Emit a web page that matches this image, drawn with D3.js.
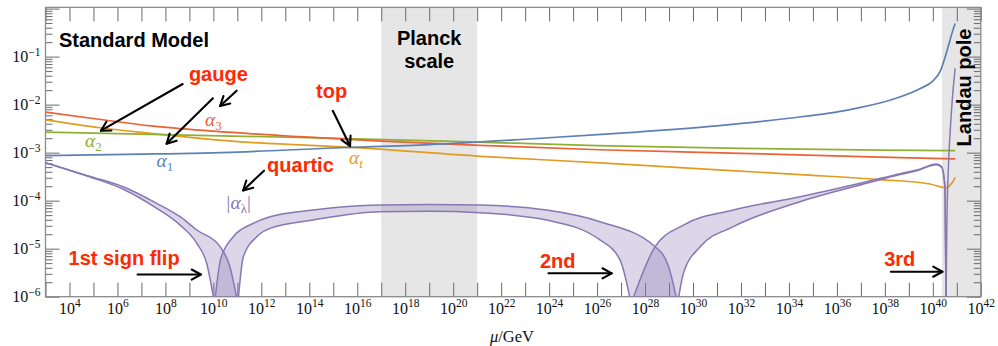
<!DOCTYPE html>
<html>
<head>
<meta charset="utf-8">
<script src="https://cdn.jsdelivr.net/npm/d3@7"></script>
<style>
  html, body { margin: 0; padding: 0; background: #fff; }
  svg { display: block; }
</style>
</head>
<body>
<svg id="chart" width="998" height="346"></svg>
<script>
// Each series: [log10(mu/GeV), coupling]
const alpha1 = [[3,8.7e-4],[7,9.3e-4],[11,1.03e-3],[15,1.25e-3],[19,1.47e-3],[23,1.9e-3],[27,2.55e-3],[31,3.6e-3],[34,5.2e-3],[36.5,7.8e-3],[38.5,1.37e-2],[39.5,2.2e-2],[40,3.1e-2],[40.3,4.85e-2],[40.6,0.137],[40.8,0.31],[40.93,0.49]];
const alpha2 = [[3,2.69e-3],[7,2.42e-3],[13.5,2.08e-3],[20,1.72e-3],[26,1.40e-3],[32,1.23e-3],[37.8,1.13e-3],[40.93,1.10e-3]];
const alpha3 = [[3,7.0e-3],[5.3,4.9e-3],[7.4,3.6e-3],[10,2.8e-3],[13.6,2.15e-3],[17,1.74e-3],[21.1,1.42e-3],[26.1,1.15e-3],[32,9.7e-4],[37.8,8.1e-4],[40.93,7.4e-4]];
const alphaT = [[3,4.8e-3],[5.27,3.3e-3],[7.36,2.53e-3],[9.44,1.99e-3],[11.53,1.63e-3],[13.61,1.45e-3],[15.7,1.29e-3],[21.12,8.4e-4],[26.12,6.14e-4],[29.46,4.88e-4],[34.46,3.49e-4],[37.8,2.75e-4],[39.88,2.22e-4],[40.51,1.86e-4],[40.6,1.85e-4],[40.72,2.12e-4],[40.85,2.56e-4],[40.93,3.06e-4]];

// |alpha_lambda| for the two bounds, one array per stretch between sign flips (0 = flip)
const lambdaLo1 = [[3,6.17e-4],[4.86,3.1e-4],[6.24,1.73e-4],[7.64,6.9e-5],[8.61,3.1e-5],[9.31,1.29e-5],[9.72,4.96e-6],[10.05,0]];
const lambdaHi1 = [[3,6.17e-4],[4.86,3.2e-4],[6.24,1.95e-4],[7.64,8.8e-5],[8.61,4.64e-5],[9.31,2.45e-5],[10.28,1.1e-5],[10.69,4.22e-6],[11.02,0]];
const lambdaLo2 = [[10.05,0],[10.3,6.0e-6],[10.83,1.77e-5],[11.67,3.38e-5],[12.36,4.64e-5],[14.16,6.38e-5],[16.95,8.1e-5],[19,8.3e-5],[21.12,8.1e-5],[23.9,6.38e-5],[26.12,3.65e-5],[28.42,1.1e-5],[28.97,4.4e-6],[29.36,0]];
const lambdaHi2 = [[11.02,0],[11.25,6.8e-6],[11.81,1.77e-5],[12.36,2.65e-5],[14.16,3.95e-5],[16.95,5.89e-5],[19,6.0e-5],[21.12,5.61e-5],[23.9,3.95e-5],[26.12,1.52e-5],[26.96,5.8e-6],[27.42,0]];
const lambdaHi3 = [[27.42,0],[28.42,1.1e-5],[29.6,3.11e-5],[31.68,6.38e-5],[34.46,1.21e-4],[37.24,2.48e-4],[38.63,3.65e-4],[39.33,4.35e-4],[40.16,5.79e-4],[40.37,5.09e-4],[40.51,1.84e-4],[40.55,0]];
const lambdaLo3 = [[29.36,0],[29.6,3.07e-6],[30.3,1.1e-5],[31.68,2.87e-5],[34.46,9.5e-5],[37.24,2.3e-4],[38.63,3.5e-4],[39.33,4.2e-4],[40.16,5.6e-4],[40.37,4.9e-4],[40.51,1.75e-4],[40.55,0]];
const lambda4 = [[40.55,0],[40.58,2.12e-5],[40.65,5.09e-4],[40.72,2.56e-3],[40.81,1.25e-2],[40.93,5.7e-2]];

// Shaded regions in log10(mu/GeV)
const planckRange = [17, 21];
const landauRange = [40.38, 42];

// Tick exponents
const xTickExps = d3.range(3, 43);
const xLabelExps = d3.range(4, 43, 2);
const yMajorExps = [-6, -5, -4, -3, -2, -1, 0];
const yMinorMultipliers = [2, 3, 4, 5, 6, 7, 8, 9];

const colors = {
  a1: "#5e81b5", at: "#e19c24", a2: "#8fb032", a3: "#eb6235", lam: "#8778b3",
  red: "#ff2a00", shade: "#e6e6e6", frame: "#8a8a8a", tick: "#6a6a6a"
};

const svg = d3.select("#chart");
const P = { left: 45.5, right: 980.8, top: 7.4, bottom: 296.7 };

const x = d3.scaleLog().domain([1e3, 1e42]).range([P.left, P.right]);
const y = d3.scaleLog().domain([1e-6, Math.pow(10, 0.025)]).range([P.bottom, P.top]);
const FLOOR = Math.pow(10, -6.15);
const px = e => x(Math.pow(10, e));
const py = v => y(Math.max(v, FLOOR));
const pyLog = L => y(Math.pow(10, L));

svg.append("defs").append("clipPath").attr("id", "plotClip")
  .append("rect").attr("x", P.left).attr("y", P.top)
  .attr("width", P.right - P.left).attr("height", P.bottom - P.top);

// shaded bands
const bands = svg.append("g");
[planckRange, landauRange].forEach(r => {
  bands.append("rect")
    .attr("x", px(r[0])).attr("y", P.top)
    .attr("width", Math.min(px(r[1]), P.right) - px(r[0]))
    .attr("height", P.bottom - P.top)
    .attr("fill", colors.shade);
});

// axes (ticks point inward)
const majorY = yMajorExps.map(k => Math.pow(10, k));
const minorY = [];
yMajorExps.slice(0, -1).forEach(k => yMinorMultipliers.forEach(m => {
  const v = m * Math.pow(10, k);
  if (v <= Math.pow(10, 0.025)) minorY.push(v);
}));
const xTicks = xTickExps.map(e => Math.pow(10, e));

function styleAxis(g) {
  g.select(".domain").remove();
  g.selectAll(".tick line").attr("stroke", colors.tick).attr("stroke-width", 1);
}

svg.append("g").attr("transform", `translate(0,${P.bottom})`)
  .call(d3.axisBottom(x).tickValues(xTicks).tickSize(-14).tickPadding(0)
    .tickFormat(v => {
      const e = Math.round(Math.log10(v));
      return xLabelExps.includes(e) ? String(e) : "";
    }))
  .call(styleAxis)
  .call(g => g.selectAll(".tick text").each(function () {
    const t = d3.select(this);
    const e = t.text();
    t.text(null).attr("y", 17.8).attr("dy", null)
      .attr("font-family", "'Liberation Serif', 'DejaVu Serif', serif")
      .attr("font-size", 16).attr("fill", "#111");
    if (e === "") return;
    t.append("tspan").text("10");
    t.append("tspan").attr("dy", -7).attr("font-size", 11.5).text(e);
  }));

svg.append("g").attr("transform", `translate(0,${P.top})`)
  .call(d3.axisTop(x).tickValues(xTicks).tickSize(-14).tickFormat(""))
  .call(styleAxis);

svg.append("g").attr("transform", `translate(${P.left},0)`)
  .call(d3.axisLeft(y).tickValues(minorY).tickSize(-7).tickFormat(""))
  .call(styleAxis);
svg.append("g").attr("transform", `translate(${P.right},0)`)
  .call(d3.axisRight(y).tickValues(minorY).tickSize(-7).tickFormat(""))
  .call(styleAxis);
svg.append("g").attr("transform", `translate(${P.right},0)`)
  .call(d3.axisRight(y).tickValues(majorY).tickSize(-14).tickFormat(""))
  .call(styleAxis);

svg.append("g").attr("transform", `translate(${P.left},0)`)
  .call(d3.axisLeft(y).tickValues(majorY).tickSize(-14).tickPadding(5)
    .tickFormat(v => {
      const k = Math.round(Math.log10(v));
      return k < 0 ? String(k) : "";
    }))
  .call(styleAxis)
  .call(g => g.selectAll(".tick text").each(function () {
    const t = d3.select(this);
    const k = t.text();
    t.text(null).attr("dy", 5)
      .attr("font-family", "'Liberation Serif', 'DejaVu Serif', serif")
      .attr("font-size", 16).attr("fill", "#111");
    if (k === "") return;
    t.append("tspan").text("10");
    t.append("tspan").attr("dy", -6.5).attr("font-size", 11.5).text(k.replace("-", "\u2212"));
  }));

// frame
svg.append("rect")
  .attr("x", P.left).attr("y", P.top)
  .attr("width", P.right - P.left).attr("height", P.bottom - P.top)
  .attr("fill", "none").attr("stroke", colors.frame).attr("stroke-width", 1.3);

// curves
const line = d3.line()
  .x(d => px(d[0]))
  .y(d => py(d[1]))
  .curve(d3.curveMonotoneX);

const plotG = svg.append("g").attr("clip-path", "url(#plotClip)");

function bandPath(a, b) {
  const pa = line(a);
  const pb = line(b.slice().reverse());
  return pa + "L" + pb.slice(1) + "Z";
}

const lambdaBands = [[lambdaHi1, lambdaLo1], [lambdaLo2, lambdaHi2], [lambdaHi3, lambdaLo3]];
plotG.append("g").selectAll("path").data(lambdaBands).join("path")
  .attr("d", d => bandPath(d[0], d[1]))
  .attr("fill", colors.lam).attr("fill-opacity", 0.3).attr("stroke", "none");

const couplingSeries = [
  { data: alphaT, color: colors.at },
  { data: alpha2, color: colors.a2 },
  { data: alpha3, color: colors.a3 },
  { data: alpha1, color: colors.a1 }
];
plotG.append("g").selectAll("path").data(couplingSeries).join("path")
  .attr("d", d => line(d.data))
  .attr("fill", "none").attr("stroke", d => d.color).attr("stroke-width", 1.7);

const lambdaLines = [lambdaLo1, lambdaHi1, lambdaLo2, lambdaHi2, lambdaHi3, lambdaLo3, lambda4];
plotG.append("g").selectAll("path").data(lambdaLines).join("path")
  .attr("d", d => line(d))
  .attr("fill", "none").attr("stroke", colors.lam).attr("stroke-width", 1.5);

// curve labels, positioned at (log10 mu, log10 alpha)
const serif = "'Liberation Serif', 'DejaVu Serif', serif";
const curveLabels = [
  { e: 9.65, L: -2.445, pre: "\u03b1", sub: "3", post: "", color: colors.a3 },
  { e: 4.65, L: -2.883, pre: "\u03b1", sub: "2", post: "", color: colors.a2 },
  { e: 7.63, L: -3.289, pre: "\u03b1", sub: "1", post: "", color: colors.a1 },
  { e: 15.66, L: -3.226, pre: "\u03b1", sub: "t", post: "", color: colors.at },
  { e: 10.49, L: -4.174, pre: "|\u03b1", sub: "\u03bb", post: "|", color: colors.lam }
];
const cl = svg.append("g");
curveLabels.forEach(d => {
  const t = cl.append("text")
    .attr("x", px(d.e)).attr("y", pyLog(d.L))
    .attr("font-family", serif).attr("font-size", 19.5).attr("fill", d.color);
  t.append("tspan").attr("font-style", "italic").text(d.pre);
  t.append("tspan").attr("dy", 4).attr("font-size", 13).attr("font-style", d.sub === "t" ? "italic" : "normal").text(d.sub);
  if (d.post) t.append("tspan").attr("dy", -4).text(d.post);
});

// annotation texts
const sans = "'Liberation Sans', Arial, Helvetica, sans-serif";
const notes = [
  { e: 3.56, L: -0.80, text: "Standard Model", color: "#000", anchor: "start" },
  { e: 19.0, L: -0.748, text: "Planck", color: "#000", anchor: "middle" },
  { e: 19.0, L: -1.227, text: "scale", color: "#000", anchor: "middle" },
  { e: 8.98, L: -1.508, text: "gauge", color: colors.red, anchor: "start" },
  { e: 14.28, L: -1.852, text: "top", color: colors.red, anchor: "start" },
  { e: 12.24, L: -3.403, text: "quartic", color: colors.red, anchor: "start" },
  { e: 3.96, L: -5.35, text: "1st sign flip", color: colors.red, anchor: "start" },
  { e: 23.62, L: -5.392, text: "2nd", color: colors.red, anchor: "start" },
  { e: 37.97, L: -5.36, text: "3rd", color: colors.red, anchor: "start" }
];
const ng = svg.append("g");
ng.selectAll("text").data(notes).join("text")
  .attr("x", d => px(d.e)).attr("y", d => pyLog(d.L))
  .attr("text-anchor", d => d.anchor)
  .attr("font-family", sans).attr("font-weight", "bold").attr("font-size", 20)
  .attr("fill", d => d.color).text(d => d.text);

ng.append("text")
  .attr("transform", `translate(${px(41.58)},${pyLog(-1.643)}) rotate(-90)`)
  .attr("text-anchor", "middle")
  .attr("font-family", sans).attr("font-weight", "bold").attr("font-size", 20)
  .attr("fill", "#000").text("Landau pole");

// arrows from label to curve, endpoints at (log10 mu, log10 alpha)
const arrows = [
  { from: [8.72, -1.571], to: [5.31, -2.543] },
  { from: [9.98, -1.868], to: [8.05, -2.814] },
  { from: [10.97, -1.71], to: [10.28, -2.029] },
  { from: [14.98, -2.127], to: [15.70, -2.862] },
  { from: [12.11, -3.376], to: [11.24, -3.788] },
  { from: [6.84, -5.538], to: [9.48, -5.538] },
  { from: [23.97, -5.513], to: [26.61, -5.513] },
  { from: [38.25, -5.48], to: [40.40, -5.48] }
];
const ag = svg.append("g").attr("stroke", "#000").attr("stroke-width", 2.1)
  .attr("fill", "none").attr("stroke-linecap", "round").attr("stroke-linejoin", "round");
arrows.forEach(a => {
  const x1 = px(a.from[0]), y1 = pyLog(a.from[1]);
  const x2 = px(a.to[0]), y2 = pyLog(a.to[1]);
  const ang = Math.atan2(y2 - y1, x2 - x1);
  const len = 10.5, spread = 0.5;
  ag.append("line").attr("x1", x1).attr("y1", y1).attr("x2", x2).attr("y2", y2);
  const p1 = [x2 - len * Math.cos(ang - spread), y2 - len * Math.sin(ang - spread)];
  const p2 = [x2 - len * Math.cos(ang + spread), y2 - len * Math.sin(ang + spread)];
  ag.append("path").attr("d", `M${p1[0]},${p1[1]}L${x2},${y2}L${p2[0]},${p2[1]}`);
});

// x-axis title
const xt = svg.append("text")
  .attr("x", 512).attr("y", 341.5).attr("text-anchor", "middle")
  .attr("font-family", serif).attr("font-size", 16.5).attr("fill", "#111");
xt.append("tspan").attr("font-style", "italic").text("\u03bc");
xt.append("tspan").text("/GeV");
</script>
</body>
</html>
